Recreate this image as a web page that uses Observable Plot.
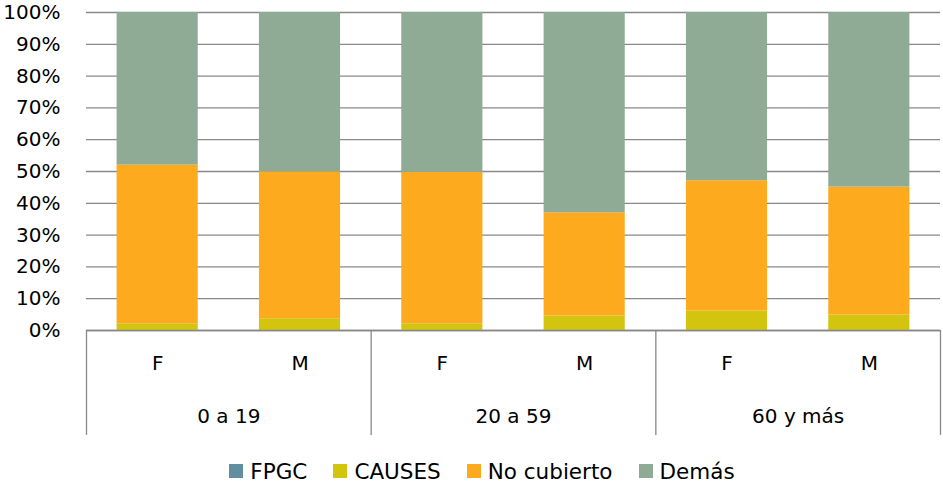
<!DOCTYPE html>
<html>
<head>
<meta charset="utf-8">
<script src="https://cdn.jsdelivr.net/npm/d3@7"></script>
<script src="https://cdn.jsdelivr.net/npm/@observablehq/plot@0.6"></script>
<style>
  body { margin: 0; background: #fff; font-family: "DejaVu Sans", sans-serif; }
  #legend { display: flex; justify-content: center; align-items: center; height: 42px; font-size: 21.5px; color: #000; padding-left: 21px; box-sizing: border-box; width: 943px; }
  .item { display: flex; align-items: center; margin: 0 13px; }
  .sw { width: 14px; height: 14px; margin-right: 7px; }
</style>
</head>
<body>
<div id="chart"></div>
<div id="legend"></div>
<script>
// ---- data (percent) ----
const groups = ["0 a 19", "20 a 59", "60 y más"];
const sexes = ["F", "M"];
const series = ["FPGC", "CAUSES", "No cubierto", "Demás"];
const fpgc       = [0.0, 0.0, 0.0, 0.0, 0.0, 0.0];
const causes     = [2.1, 3.7, 2.1, 4.6, 6.1, 4.9];
const noCubierto = [49.9, 46.2, 47.6, 32.4, 41.0, 40.2];
const demas      = [48.0, 50.1, 50.3, 63.0, 52.9, 54.9];
const yTicks = [0, 10, 20, 30, 40, 50, 60, 70, 80, 90, 100];

const colors = ["#5f8fa0", "#d2c40f", "#fdaa1e", "#8fab96"];
const values = [fpgc, causes, noCubierto, demas];

// build table: one bar per (group, sex)
const cats = [];
groups.forEach((g, gi) => sexes.forEach((s, si) => cats.push({group: g, sex: s, idx: gi * 2 + si})));
const rects = [];
cats.forEach(c => {
  let acc = 0;
  series.forEach((name, k) => {
    const v = values[k][c.idx] / 100;
    rects.push({idx: c.idx, series: name, y1: acc, y2: acc + v});
    acc += v;
  });
});

const barHalf = 0.285; // fraction of a slot
const chart = Plot.plot({
  width: 943,
  height: 450,
  marginLeft: 86,
  marginRight: 3,
  marginTop: 12,
  marginBottom: 120,
  style: {fontFamily: "DejaVu Sans, sans-serif", fontSize: "20px", color: "#000", background: "#fff", overflow: "visible"},
  x: {domain: [0, cats.length], axis: null},
  y: {domain: [0, 1], ticks: yTicks.map(d => d / 100), tickFormat: d3.format(".0%"), tickSize: 0, tickPadding: 26, label: null},
  color: {domain: series, range: colors},
  marks: [
    Plot.ruleY(yTicks.map(d => d / 100), {x1: 0, x2: cats.length, stroke: "#888", strokeWidth: 1.3}),
    Plot.rect(rects, {
      x1: d => d.idx + 0.5 - barHalf,
      x2: d => d.idx + 0.5 + barHalf,
      y1: "y1", y2: "y2", fill: "series"
    }),
    Plot.ruleY([0], {x1: 0, x2: cats.length, stroke: "#888", strokeWidth: 1.3}),
    Plot.ruleX(d3.range(0, cats.length + 1, 2), {y1: 0, y2: -0.33, stroke: "#888", strokeWidth: 1.3}),
    Plot.text(cats, {x: d => d.idx + 0.5, y: 0, text: "sex", dy: 33, fill: "#000"}),
    Plot.text(groups, {x: (d, i) => i * 2 + 1, y: 0, text: d => d, dy: 86, fill: "#000"})
  ]
});
document.getElementById("chart").appendChild(chart);

const legend = document.getElementById("legend");
series.forEach((name, k) => {
  const it = document.createElement("div");
  it.className = "item";
  const sw = document.createElement("div");
  sw.className = "sw";
  sw.style.background = colors[k];
  const t = document.createElement("span");
  t.textContent = name;
  it.appendChild(sw);
  it.appendChild(t);
  legend.appendChild(it);
});
</script>
</body>
</html>
